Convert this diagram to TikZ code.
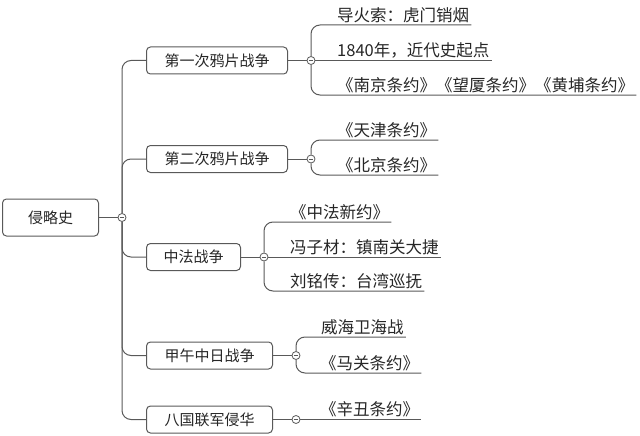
\documentclass[tikz,border=0pt]{standalone}
\usepackage{fontspec}
\setmainfont{Noto Sans CJK SC}
\begin{document}
\begin{tikzpicture}
    [
        x = 1pt, y = -1pt,
        topic/.style = {shape=rectangle, rounded corners=4pt, draw=black!65,
            line width=1pt, anchor=west, minimum height=27pt, text=black!85,
            font=\fontsize{15}{18}\selectfont},
        fold/.style  = {circle, draw=black!65, fill=white, line width=0.8pt,
            minimum size=8pt, inner sep=0pt,
            path picture={\draw[black!65, line width=0.8pt]
                ([xshift=-2.2pt]path picture bounding box.center) --
                ([xshift=2.2pt]path picture bounding box.center);}},
        fact/.style  = {anchor=south west, inner sep=2pt, text=black!85,
            font=\fontsize{16.5}{19}\selectfont},
        link/.style  = {draw=black!65, line width=1pt, rounded corners=9pt}
    ]
    \useasboundingbox (0,0) rectangle (640,436);

    % root and wars
    \node[topic, minimum width=96pt, minimum height=37pt] (root) at (2,217.5) {侵略史};
    \node[fold] (c0) at (122,217.5) {};
    \node[topic, minimum width=141pt] (war1) at (146,60.5) {第一次鸦片战争};
    \node[topic, minimum width=141pt] (war2) at (146,159) {第二次鸦片战争};
    \node[topic, minimum width=94pt] (war3) at (146,257) {中法战争};
    \node[topic, minimum width=126pt] (war4) at (146,355.5) {甲午中日战争};
    \node[topic, minimum width=126pt] (war5) at (146,419.5) {八国联军侵华};

    % fold marks
    \node[fold] (c1) at (311,60.5) {};
    \node[fold] (c2) at (311,159) {};
    \node[fold] (c3) at (264,257) {};
    \node[fold] (c4) at (296,355.5) {};
    \node[fold] (c5) at (296,419.5) {};

    % facts
    \node[fact] (f11) at (335,25) {导火索：虎门销烟};
    \node[fact] (f12) at (335,60.5) {1840年，近代史起点};
    \node[fact] (f13) at (335,95) {《南京条约》《望厦条约》《黄埔条约》};
    \node[fact] (f21) at (335,140) {《天津条约》};
    \node[fact] (f22) at (335,175) {《北京条约》};
    \node[fact] (f31) at (288,222) {《中法新约》};
    \node[fact] (f32) at (288,257) {冯子材：镇南关大捷};
    \node[fact] (f33) at (288,291) {刘铭传：台湾巡抚};
    \node[fact] (f41) at (319,337) {威海卫海战};
    \node[fact] (f42) at (318,373) {《马关条约》};
    \node[fact] (f51) at (318,419.5) {《辛丑条约》};

    % links
    \draw[link] (root.east) -- (c0.west);
    \draw[link] (c0.north) |- (war1.west);
    \draw[link] (c0.north) |- (war2.west);
    \draw[link] (c0.south) |- (war3.west);
    \draw[link] (c0.south) |- (war4.west);
    \draw[link] (c0.south) |- (war5.west);
    \draw[link] (war1.east) -- (c1.west);
    \draw[link] (war2.east) -- (c2.west);
    \draw[link] (war3.east) -- (c3.west);
    \draw[link] (war4.east) -- (c4.west);
    \draw[link] (war5.east) -- (c5.west);

    \draw[link] (c1.north) |- (f11.south west) -- (f11.south east);
    \draw[link] (c1.east) -- (f12.south east);
    \draw[link] (c1.south) |- (f13.south west) -- (f13.south east);
    \draw[link] (c2.north) |- (f21.south west) -- (f21.south east);
    \draw[link] (c2.south) |- (f22.south west) -- (f22.south east);
    \draw[link] (c3.north) |- (f31.south west) -- (f31.south east);
    \draw[link] (c3.east) -- (f32.south east);
    \draw[link] (c3.south) |- (f33.south west) -- (f33.south east);
    \draw[link] (c4.north) |- (f41.south west) -- (f41.south east);
    \draw[link] (c4.south) |- (f42.south west) -- (f42.south east);
    \draw[link] (c5.east) -- (f51.south east);
\end{tikzpicture}
\end{document}
